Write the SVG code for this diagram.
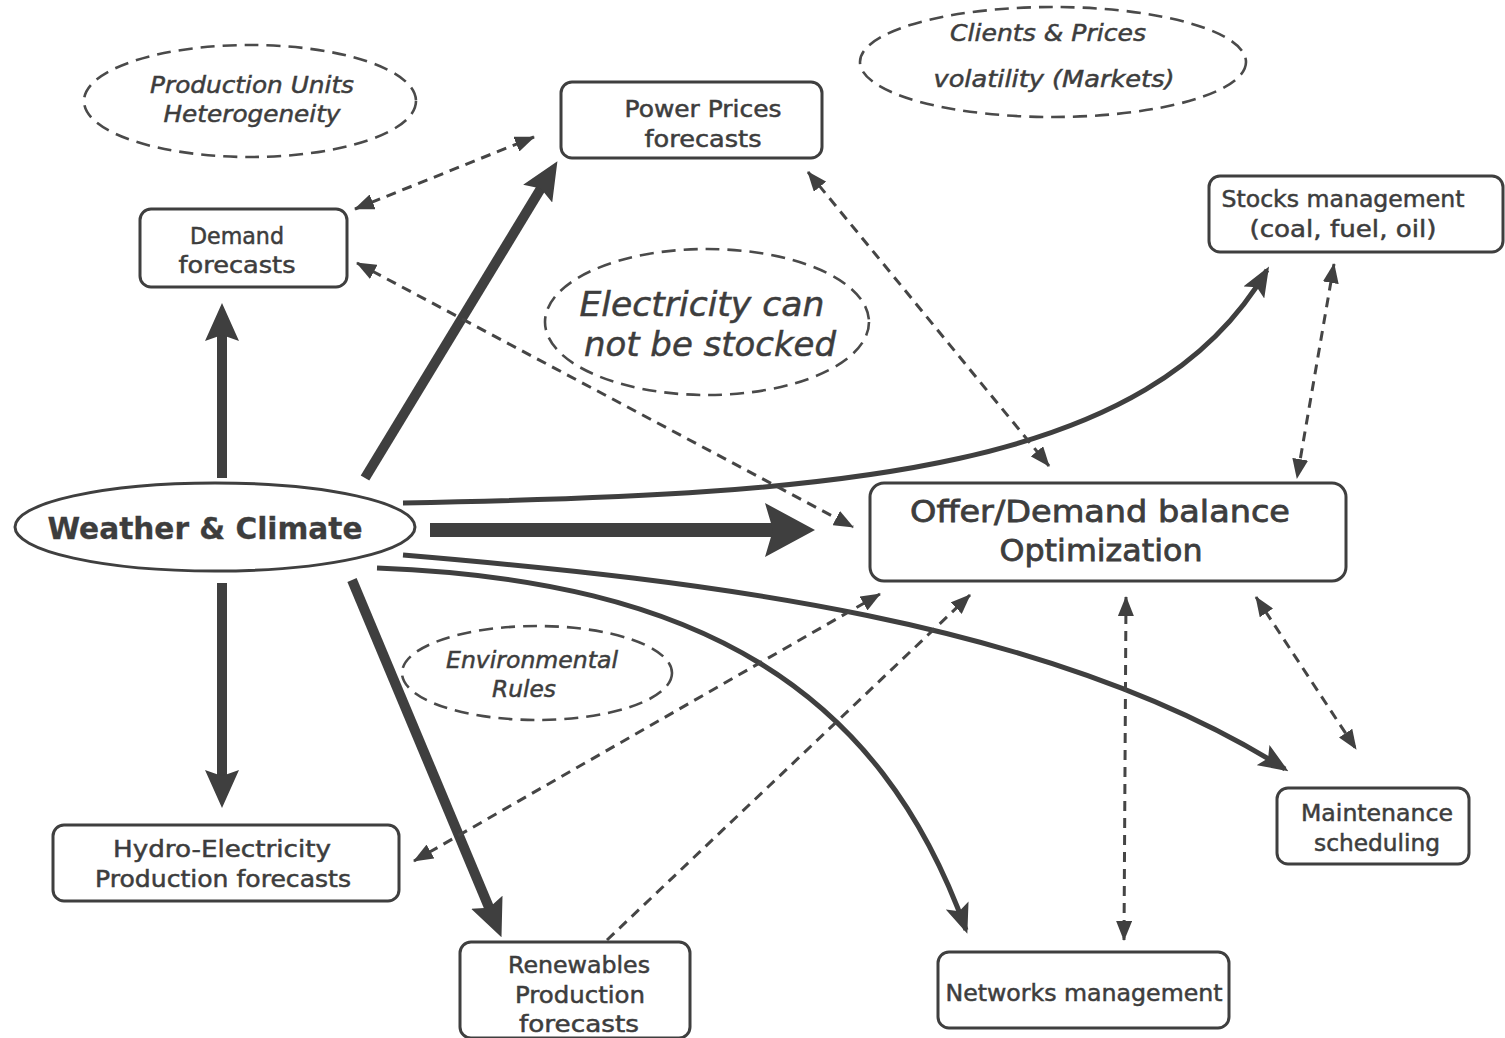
<svg xmlns="http://www.w3.org/2000/svg" width="1505" height="1038" viewBox="0 0 1505 1038">
<style>
  .box { fill: #ffffff; stroke: #3f3f3f; stroke-width: 3; }
  .cloud { fill: none; stroke: #4a4a4a; stroke-width: 2.6; stroke-dasharray: 14 8; }
  .t { font-family: "DejaVu Sans", "Liberation Sans", sans-serif; fill: #3d3d3d; stroke: #3d3d3d; stroke-width: 0.5; text-anchor: middle; }
  .n { font-size: 23px; }
  .i { font-size: 23px; font-style: italic; }
  .big { font-size: 31px; font-weight: bold; stroke-width: 0.3; }
  .thick { fill: none; stroke: #3f3f3f; stroke-width: 10; }
  .med { fill: none; stroke: #3f3f3f; stroke-width: 5; }
  .dash { fill: none; stroke: #454545; stroke-width: 3; stroke-dasharray: 10 7; }
</style>
<defs>
  <marker id="dh" markerUnits="userSpaceOnUse" markerWidth="20" markerHeight="16" refX="19" refY="8" orient="auto-start-reverse" viewBox="0 0 20 16">
    <path d="M0,0 L20,8 L0,16 z" fill="#404040"/>
  </marker>
  <marker id="mh" markerUnits="userSpaceOnUse" markerWidth="30" markerHeight="24" refX="26" refY="12" orient="auto" viewBox="0 0 30 24">
    <path d="M0,0 L30,12 L0,24 L6,12 z" fill="#3f3f3f"/>
  </marker>
  <marker id="th" markerUnits="userSpaceOnUse" markerWidth="38" markerHeight="34" refX="16" refY="17" orient="auto" viewBox="0 0 38 34">
    <path d="M0,0 L38,17 L0,34 L6,17 z" fill="#3f3f3f"/>
  </marker>
  <marker id="bh" markerUnits="userSpaceOnUse" markerWidth="50" markerHeight="54" refX="20" refY="27" orient="auto" viewBox="0 0 50 54">
    <path d="M0,0 L50,27 L0,54 L8,27 z" fill="#3f3f3f"/>
  </marker>
</defs>
<rect x="0" y="0" width="1505" height="1038" fill="#ffffff"/>

<g id="connectors">
  <path class="thick" d="M222,478 L222,325" marker-end="url(#th)"/>
  <path class="thick" d="M222,583 L222,786" marker-end="url(#th)"/>
  <path class="thick" d="M365,478 L546,180" marker-end="url(#th)"/>
  <path class="thick" d="M352,580 L493,917" marker-end="url(#th)"/>
  <path class="thick" style="stroke-width:14" d="M430,530 L785,530" marker-end="url(#bh)"/>
  <path class="med" d="M403,503 C850,495 1150,470 1267,270" marker-end="url(#mh)"/>
  <path class="med" d="M403,555 C700,580 1050,620 1285,769" marker-end="url(#mh)"/>
  <path class="med" d="M377,568 C700,580 880,690 966,930" marker-end="url(#mh)"/>
  <path class="dash" d="M355,209 L534,137" marker-start="url(#dh)" marker-end="url(#dh)"/>
  <path class="dash" d="M357,263 L853,527" marker-start="url(#dh)" marker-end="url(#dh)"/>
  <path class="dash" d="M808,172 L1049,466" marker-start="url(#dh)" marker-end="url(#dh)"/>
  <path class="dash" d="M1334,264 L1297,478" marker-start="url(#dh)" marker-end="url(#dh)"/>
  <path class="dash" d="M1256,597 L1356,749" marker-start="url(#dh)" marker-end="url(#dh)"/>
  <path class="dash" d="M1126,597 L1124,940" marker-start="url(#dh)" marker-end="url(#dh)"/>
  <path class="dash" d="M414,861 L880,594" marker-start="url(#dh)" marker-end="url(#dh)"/>
  <path class="dash" d="M607,940 L970,595" marker-end="url(#dh)"/>
</g>

<g id="weather">
  <ellipse cx="215" cy="527" rx="200" ry="44" fill="#ffffff" stroke="#3f3f3f" stroke-width="3"/>
  <text class="t big" x="205" y="539" textLength="315" lengthAdjust="spacingAndGlyphs">Weather &amp; Climate</text>
</g>

<g id="production-units">
  <ellipse class="cloud" cx="250" cy="101" rx="166" ry="56"/>
  <text class="t i" x="252" y="93" textLength="204" lengthAdjust="spacingAndGlyphs">Production Units</text>
  <text class="t i" x="252" y="122" textLength="177" lengthAdjust="spacingAndGlyphs">Heterogeneity</text>
</g>

<g id="clients-prices">
  <ellipse class="cloud" cx="1053" cy="62" rx="193" ry="55"/>
  <text class="t i" x="1048" y="41" textLength="196" lengthAdjust="spacingAndGlyphs">Clients &amp; Prices</text>
  <text class="t i" x="1054" y="87" textLength="241" lengthAdjust="spacingAndGlyphs">volatility (Markets)</text>
</g>

<g id="electricity">
  <ellipse class="cloud" cx="707" cy="322" rx="162" ry="73"/>
  <text class="t" style="font-size:33px;font-style:italic" x="702" y="316" textLength="245" lengthAdjust="spacingAndGlyphs">Electricity can</text>
  <text class="t" style="font-size:33px;font-style:italic" x="710" y="356" textLength="252" lengthAdjust="spacingAndGlyphs">not be stocked</text>
</g>

<g id="environmental">
  <ellipse class="cloud" cx="537" cy="673" rx="135" ry="47"/>
  <text class="t i" x="532" y="668" textLength="172" lengthAdjust="spacingAndGlyphs">Environmental</text>
  <text class="t i" x="524" y="697" textLength="64" lengthAdjust="spacingAndGlyphs">Rules</text>
</g>

<g id="demand">
  <rect class="box" x="140" y="209" width="207" height="78" rx="11"/>
  <text class="t n" x="237" y="244" textLength="94" lengthAdjust="spacingAndGlyphs">Demand</text>
  <text class="t n" x="237" y="273" textLength="117" lengthAdjust="spacingAndGlyphs">forecasts</text>
</g>

<g id="power-prices">
  <rect class="box" x="561" y="82" width="261" height="76" rx="11"/>
  <text class="t n" x="703" y="117" textLength="157" lengthAdjust="spacingAndGlyphs">Power Prices</text>
  <text class="t n" x="703" y="147" textLength="117" lengthAdjust="spacingAndGlyphs">forecasts</text>
</g>

<g id="stocks">
  <rect class="box" x="1209" y="176" width="294" height="76" rx="11"/>
  <text class="t n" x="1343" y="207" textLength="243" lengthAdjust="spacingAndGlyphs">Stocks management</text>
  <text class="t n" x="1343" y="237" textLength="187" lengthAdjust="spacingAndGlyphs">(coal, fuel, oil)</text>
</g>

<g id="offer-demand">
  <rect class="box" x="870" y="483" width="476" height="98" rx="14"/>
  <text class="t" style="font-size:31px;stroke-width:0.8" x="1100" y="522" textLength="380" lengthAdjust="spacingAndGlyphs">Offer/Demand balance</text>
  <text class="t" style="font-size:31px;stroke-width:0.8" x="1101" y="561" textLength="203" lengthAdjust="spacingAndGlyphs">Optimization</text>
</g>

<g id="hydro">
  <rect class="box" x="53" y="825" width="346" height="76" rx="11"/>
  <text class="t n" x="222" y="857" textLength="218" lengthAdjust="spacingAndGlyphs">Hydro-Electricity</text>
  <text class="t n" x="223" y="887" textLength="256" lengthAdjust="spacingAndGlyphs">Production forecasts</text>
</g>

<g id="renewables">
  <rect class="box" x="460" y="942" width="230" height="96" rx="11"/>
  <text class="t n" x="579" y="973" textLength="142" lengthAdjust="spacingAndGlyphs">Renewables</text>
  <text class="t n" x="580" y="1003" textLength="130" lengthAdjust="spacingAndGlyphs">Production</text>
  <text class="t n" x="579" y="1032" textLength="120" lengthAdjust="spacingAndGlyphs">forecasts</text>
</g>

<g id="networks">
  <rect class="box" x="938" y="952" width="291" height="76" rx="11"/>
  <text class="t n" x="1084" y="1001" textLength="277" lengthAdjust="spacingAndGlyphs">Networks management</text>
</g>

<g id="maintenance">
  <rect class="box" x="1277" y="788" width="192" height="76" rx="11"/>
  <text class="t n" x="1377" y="821" textLength="152" lengthAdjust="spacingAndGlyphs">Maintenance</text>
  <text class="t n" x="1377" y="851" textLength="126" lengthAdjust="spacingAndGlyphs">scheduling</text>
</g>
</svg>
